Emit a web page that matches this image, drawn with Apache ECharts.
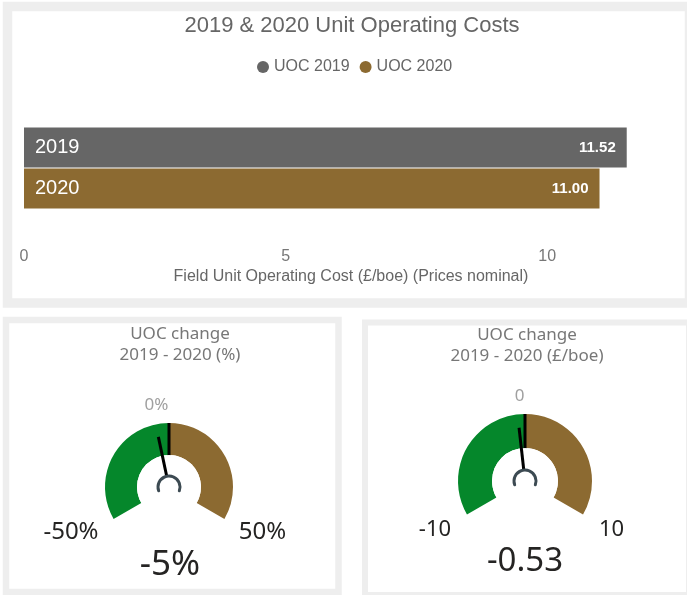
<!DOCTYPE html>
<html>
<head>
<meta charset="utf-8">
<title>2019 & 2020 Unit Operating Costs</title>
<script src="https://cdn.jsdelivr.net/npm/echarts@6/dist/echarts.min.js"></script>
<style>
  html, body { margin: 0; padding: 0; background: #fff; }
  #main { width: 687px; height: 595px; }
</style>
</head>
<body>
<div id="main"></div>
<script>
// bar chart data
var years = ['2019', '2020'];
var seriesNames = ['UOC 2019', 'UOC 2020'];
var uoc2019 = [11.52, '-'];
var uoc2020 = ['-', 11.00];
var xMin = 0, xMax = 12.5, xStep = 5;

// gauge data
var pctRange = [-50, 50];
var pctTarget = 0;
var pctChange = -5;
var boeRange = [-10, 10];
var boeTarget = 0;
var boeChange = -0.53;

var GREY = '#666666', BROWN = '#8c6a31', GREEN = '#05872b';
var HOOK = '#3c4a52', DARK = '#252423', FRAME = '#eeeeee';
var TOPFONT = 'Liberation Sans, Arial, sans-serif';
var GFONT = 'Segoe UI, Noto Sans, Open Sans, sans-serif';

function gauge(opt) {
  var r = opt.radius;
  var inner = r - opt.width;
  var split = (opt.target - opt.range[0]) / (opt.range[1] - opt.range[0]);
  var common = {
    type: 'gauge', center: opt.center, radius: r,
    startAngle: 210, endAngle: -30,
    min: opt.range[0], max: opt.range[1],
    axisLine: { show: false }, splitLine: { show: false },
    axisTick: { show: false }, axisLabel: { show: false },
    pointer: { show: false }, anchor: { show: false },
    title: { show: false }, detail: { show: false },
    silent: true
  };
  var labelStyle = function (offset, size, color) {
    return { show: true, offsetCenter: offset, fontSize: size, color: color, fontFamily: GFONT };
  };
  return [
    // coloured band + target marker
    Object.assign({}, common, {
      z: 2,
      axisLine: { show: true, lineStyle: { width: opt.width, color: [[split, GREEN], [1, BROWN]] } },
      pointer: { show: true, icon: 'rect', length: '100%', width: 3, itemStyle: { color: '#000' } },
      anchor: { show: true, showAbove: true, size: inner * 2, itemStyle: { color: '#fff' } },
      data: [{ value: opt.target }]
    }),
    // needle + value
    Object.assign({}, common, {
      z: 3,
      pointer: { show: true, icon: 'rect', length: '80%', width: 3, itemStyle: { color: '#000' } },
      anchor: { show: true, showAbove: true, size: 22, itemStyle: { color: '#fff' } },
      detail: {
        show: true, offsetCenter: opt.detailOffset, formatter: opt.fmt,
        fontSize: opt.detailSize, color: DARK, fontFamily: GFONT, fontWeight: 'normal'
      },
      data: [{ value: opt.value }]
    }),
    // min / target / max labels
    Object.assign({}, common, {
      z: 3,
      title: { show: true },
      data: [
        { value: opt.range[0], name: opt.fmt(opt.range[0]), title: labelStyle(opt.minOffset, opt.endSize, DARK) },
        { value: opt.target, name: opt.fmt(opt.target), title: labelStyle(opt.targetOffset, 17, '#a0a0a0') },
        { value: opt.range[1], name: opt.fmt(opt.range[1]), title: labelStyle(opt.maxOffset, opt.endSize, DARK) }
      ]
    }),
    // hook round the pivot
    Object.assign({}, common, {
      z: 4, radius: 12.5, startAngle: 200, endAngle: -20,
      axisLine: { show: true, roundCap: true, lineStyle: { width: 3, color: [[1, HOOK]] } },
      data: [{ value: opt.range[0] }]
    })
  ];
}

var pctGauge = gauge({
  center: [169, 487], radius: 64, width: 32,
  range: pctRange, target: pctTarget, value: pctChange,
  fmt: function (v) { return v + '%'; },
  endSize: 24, detailSize: 35,
  detailOffset: [1, 78], minOffset: [-98, 45], maxOffset: [93.5, 45], targetOffset: [-12.5, -82]
});
var boeGauge = gauge({
  center: [525, 481], radius: 67, width: 34,
  range: boeRange, target: boeTarget, value: boeChange,
  fmt: function (v) { return String(v); },
  endSize: 22, detailSize: 33,
  detailOffset: [0, 81], minOffset: [-90, 49], maxOffset: [86.5, 49], targetOffset: [-5.5, -85]
});

var chart = echarts.init(document.getElementById('main'), null, { renderer: 'canvas' });

var option = {
  animation: false,
  backgroundColor: '#fff',
  title: [
    {
      text: '2019 & 2020 Unit Operating Costs', left: 352, top: 15, textAlign: 'center', padding: 0,
      textStyle: { fontFamily: TOPFONT, fontSize: 22, fontWeight: 'normal', color: '#666' }
    },
    {
      text: 'UOC change\n2019 - 2020 (%)', left: 180, top: 324, textAlign: 'center', padding: 0,
      textStyle: { fontFamily: GFONT, fontSize: 17, lineHeight: 21, fontWeight: 'normal', color: '#777' }
    },
    {
      text: 'UOC change\n2019 - 2020 (£/boe)', left: 527, top: 325, textAlign: 'center', padding: 0,
      textStyle: { fontFamily: GFONT, fontSize: 17, lineHeight: 21, fontWeight: 'normal', color: '#777' }
    }
  ],
  legend: {
    data: seriesNames, left: 252, top: 54, icon: 'circle',
    itemWidth: 12, itemHeight: 12, itemGap: 10,
    textStyle: { fontFamily: TOPFONT, fontSize: 16, color: '#666' }
  },
  graphic: [
    { type: 'rect', silent: true, shape: { x: 7.5, y: 6.5, width: 682, height: 296.5 }, style: { fill: 'none', stroke: FRAME, lineWidth: 9.5 } },
    { type: 'rect', silent: true, shape: { x: 6, y: 320, width: 332.5, height: 272 }, style: { fill: 'none', stroke: FRAME, lineWidth: 6.5 } },
    { type: 'rect', silent: true, shape: { x: 365, y: 322.5, width: 324, height: 272.5 }, style: { fill: 'none', stroke: FRAME, lineWidth: 6 } }
  ],
  grid: { left: 24, top: 127, width: 654, height: 82 },
  xAxis: {
    type: 'value', min: xMin, max: xMax, interval: xStep,
    axisLine: { show: false }, axisTick: { show: false }, splitLine: { show: false },
    axisLabel: { showMaxLabel: false, margin: 40, color: '#777', fontSize: 16, fontFamily: TOPFONT },
    name: 'Field Unit Operating Cost (£/boe) (Prices nominal)',
    nameLocation: 'middle', nameGap: 60,
    nameTextStyle: { color: '#666', fontSize: 16, fontFamily: TOPFONT }
  },
  yAxis: {
    type: 'category', data: years, inverse: true, z: 5,
    axisLine: { show: false }, axisTick: { show: false }, splitLine: { show: false },
    axisLabel: { inside: true, margin: 11, color: '#fff', fontSize: 20, fontFamily: TOPFONT }
  },
  series: [
    {
      name: seriesNames[0], type: 'bar', stack: 'uoc', data: uoc2019, barWidth: 40,
      itemStyle: { color: GREY },
      label: {
        show: true, position: 'insideRight', distance: 11, color: '#fff',
        fontSize: 15, fontWeight: 'bold', fontFamily: TOPFONT,
        formatter: function (p) { return p.value.toFixed(2); }
      }
    },
    {
      name: seriesNames[1], type: 'bar', stack: 'uoc', data: uoc2020, barWidth: 40,
      itemStyle: { color: BROWN },
      label: {
        show: true, position: 'insideRight', distance: 11, color: '#fff',
        fontSize: 15, fontWeight: 'bold', fontFamily: TOPFONT,
        formatter: function (p) { return p.value.toFixed(2); }
      }
    }
  ].concat(pctGauge, boeGauge)
};

chart.setOption(option);
</script>
</body>
</html>
